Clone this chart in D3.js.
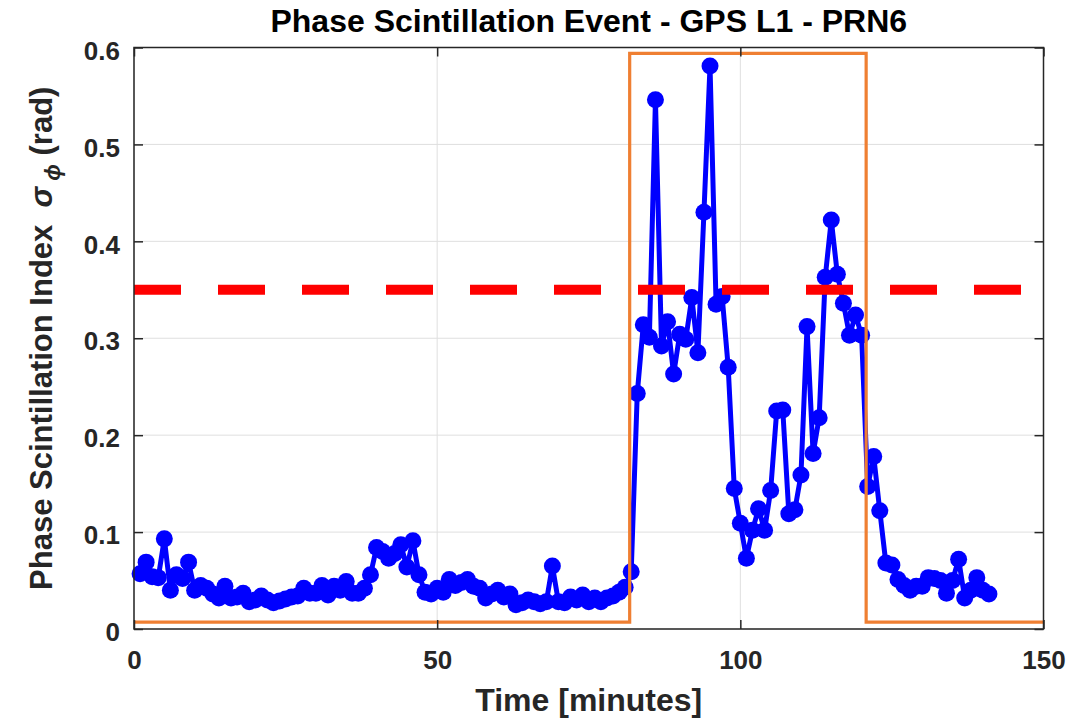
<!DOCTYPE html>
<html>
<head>
<meta charset="utf-8">
<script src="https://cdn.jsdelivr.net/npm/d3@7"></script>
<style>
  html, body { margin: 0; padding: 0; background: #fff; }
  svg { display: block; font-family: "Liberation Sans", Arial, Helvetica, sans-serif; }
</style>
</head>
<body>
<svg id="chart" width="1088" height="721"></svg>
<script>
// Sampling times (minutes) of the phase scintillation index
const timeMinutes = [
  1, 2, 3, 4, 5, 6, 7, 8, 9, 10, 11, 12, 13, 14, 15, 16, 17, 18, 19, 20,
  21, 22, 23, 24, 25, 26, 27, 28, 29, 30, 31, 32, 33, 34, 35, 36, 37, 38, 39, 40,
  41, 42, 43, 44, 45, 46, 47, 48, 49, 50, 51, 52, 53, 54, 55, 56, 57, 58, 59, 60,
  61, 62, 63, 64, 65, 66, 67, 68, 69, 70, 71, 72, 73, 74, 75, 76, 77, 78, 79, 80,
  81, 82, 83, 84, 85, 86, 87, 88, 89, 90, 91, 92, 93, 94, 95, 96, 97, 98, 99, 100,
  101, 102, 103, 104, 105, 106, 107, 108, 109, 110, 111, 112, 113, 114, 115, 116, 117, 118, 119, 120,
  121, 122, 123, 124, 125, 126, 127, 128, 129, 130, 131, 132, 133, 134, 135, 136, 137, 138, 139, 140,
  141
];

// Sigma-phi (rad), GPS L1, PRN6
const sigmaPhi = [
  0.057, 0.069, 0.054, 0.053, 0.093, 0.040, 0.056, 0.052, 0.069, 0.040,
  0.045, 0.042, 0.036, 0.032, 0.044, 0.032, 0.033, 0.037, 0.028, 0.030,
  0.034, 0.030, 0.027, 0.029, 0.031, 0.033, 0.034, 0.042, 0.037, 0.037,
  0.045, 0.035, 0.044, 0.040, 0.049, 0.037, 0.037, 0.042, 0.056, 0.084,
  0.080, 0.073, 0.078, 0.087, 0.064, 0.091, 0.056, 0.038, 0.036, 0.042,
  0.038, 0.051, 0.045, 0.048, 0.051, 0.044, 0.042, 0.032, 0.036, 0.040,
  0.033, 0.036, 0.025, 0.027, 0.030, 0.028, 0.026, 0.028, 0.065, 0.028,
  0.027, 0.033, 0.030, 0.035, 0.028, 0.032, 0.028, 0.032, 0.034, 0.038,
  0.043, 0.059, 0.243, 0.314, 0.301, 0.546, 0.292, 0.317, 0.263, 0.304,
  0.299, 0.342, 0.285, 0.430, 0.581, 0.335, 0.343, 0.270, 0.145, 0.109,
  0.073, 0.102, 0.124, 0.102, 0.143, 0.225, 0.226, 0.119, 0.123, 0.159,
  0.312, 0.181, 0.218, 0.363, 0.422, 0.366, 0.336, 0.303, 0.324, 0.303,
  0.147, 0.178, 0.122, 0.068, 0.066, 0.051, 0.045, 0.040, 0.044, 0.044,
  0.053, 0.052, 0.050, 0.037, 0.050, 0.072, 0.032, 0.040, 0.053, 0.040,
  0.036
];

// Detection threshold
const thresholdTime = [0, 150];
const thresholdLevel = [0.35, 0.35];

// Event flag (step window)
const eventTime = [0, 81.75, 81.75, 120.75, 120.75, 150];
const eventLevel = [0.007, 0.007, 0.594, 0.594, 0.007, 0.007];

// Axis ticks
const xTicks = [0, 50, 100, 150];
const xTickLabels = ["0", "50", "100", "150"];
const yTicks = [0, 0.1, 0.2, 0.3, 0.4, 0.5, 0.6];
const yTickLabels = ["0", "0.1", "0.2", "0.3", "0.4", "0.5", "0.6"];

const titleText = "Phase Scintillation Event - GPS L1 - PRN6";
const xLabelText = "Time [minutes]";

const svg = d3.select("#chart");
const W = 1088, H = 721;
const plot = { left: 134, right: 1043.5, top: 47.5, bottom: 629 };

svg.append("rect").attr("width", W).attr("height", H).attr("fill", "#fff");

const x = d3.scaleLinear().domain([0, 150]).range([plot.left, plot.right]);
const y = d3.scaleLinear().domain([0, 0.6]).range([plot.bottom, plot.top]);

const axisColor = "#262626";
const tickFont = 26;
const labelFont = 32;

// Grid
const grid = svg.append("g");
grid.selectAll("line.gx").data(xTicks).join("line")
  .attr("x1", d => x(d)).attr("x2", d => x(d))
  .attr("y1", plot.top).attr("y2", plot.bottom)
  .attr("stroke", "#dfdfdf").attr("stroke-width", 1);
grid.selectAll("line.gy").data(yTicks).join("line")
  .attr("x1", plot.left).attr("x2", plot.right)
  .attr("y1", d => y(d)).attr("y2", d => y(d))
  .attr("stroke", "#dfdfdf").attr("stroke-width", 1);

// Data series
const line = d3.line().x(d => x(d[0])).y(d => y(d[1]));
const series = timeMinutes.map((t, i) => [t, sigmaPhi[i]]);

svg.append("path")
  .datum(series)
  .attr("d", line)
  .attr("fill", "none")
  .attr("stroke", "#0000ff")
  .attr("stroke-width", 5)
  .attr("stroke-linejoin", "round");

svg.append("g").selectAll("circle").data(series).join("circle")
  .attr("cx", d => x(d[0]))
  .attr("cy", d => y(d[1]))
  .attr("r", 8.5)
  .attr("fill", "#0000ff");

// Threshold
svg.append("path")
  .datum(thresholdTime.map((t, i) => [t, thresholdLevel[i]]))
  .attr("d", line)
  .attr("fill", "none")
  .attr("stroke", "#ff0000")
  .attr("stroke-width", 10)
  .attr("stroke-dasharray", "47 37");

// Event window
svg.append("path")
  .datum(eventTime.map((t, i) => [t, eventLevel[i]]))
  .attr("d", line)
  .attr("fill", "none")
  .attr("stroke", "#ef7f32")
  .attr("stroke-width", 3.2);

// Box
svg.append("rect")
  .attr("x", plot.left).attr("y", plot.top)
  .attr("width", plot.right - plot.left).attr("height", plot.bottom - plot.top)
  .attr("fill", "none").attr("stroke", axisColor).attr("stroke-width", 1.5);

// Axes with inward ticks
function styleAxis(g, showLabels) {
  g.select(".domain").remove();
  g.selectAll(".tick line").attr("stroke", axisColor).attr("stroke-width", 1.5);
  g.selectAll(".tick text")
    .attr("fill", axisColor)
    .attr("font-size", tickFont)
    .attr("font-weight", "bold")
    .style("display", showLabels ? null : "none");
}

svg.append("g").attr("transform", `translate(0,${plot.bottom})`)
  .call(d3.axisBottom(x).tickValues(xTicks).tickFormat((d, i) => xTickLabels[i]).tickSize(-9).tickPadding(22))
  .call(g => styleAxis(g, true));
svg.append("g").attr("transform", `translate(0,${plot.top})`)
  .call(d3.axisTop(x).tickValues(xTicks).tickSize(-9))
  .call(g => styleAxis(g, false));
svg.append("g").attr("transform", `translate(${plot.left},0)`)
  .call(d3.axisLeft(y).tickValues(yTicks).tickFormat((d, i) => yTickLabels[i]).tickSize(-9).tickPadding(14))
  .call(g => styleAxis(g, true))
  .call(g => g.selectAll(".tick text").attr("dy", "0.45em"));
svg.append("g").attr("transform", `translate(${plot.right},0)`)
  .call(d3.axisRight(y).tickValues(yTicks).tickSize(-9))
  .call(g => styleAxis(g, false));

// Title
svg.append("text")
  .attr("x", (plot.left + plot.right) / 2)
  .attr("y", 32)
  .attr("text-anchor", "middle")
  .attr("font-size", labelFont)
  .attr("font-weight", "bold")
  .attr("fill", "#000")
  .text(titleText);

// X label
svg.append("text")
  .attr("x", (plot.left + plot.right) / 2)
  .attr("y", 711)
  .attr("text-anchor", "middle")
  .attr("font-size", labelFont)
  .attr("font-weight", "bold")
  .attr("fill", axisColor)
  .text(xLabelText);

// Y label with sigma-phi symbol
const yl = svg.append("text")
  .attr("transform", `translate(52,${(plot.top + plot.bottom) / 2}) rotate(-90)`)
  .attr("text-anchor", "middle")
  .attr("font-size", 31)
  .attr("font-weight", "bold")
  .attr("fill", axisColor)
  .attr("xml:space", "preserve")
  .style("white-space", "pre");
yl.append("tspan").text("Phase Scintillation Index  ");
yl.append("tspan").attr("font-style", "italic").text("σ");
yl.append("tspan").attr("font-style", "italic").attr("font-size", 22).attr("dy", 8).text(" ϕ");
yl.append("tspan").attr("dy", -8).text(" (rad)");
</script>
</body>
</html>
